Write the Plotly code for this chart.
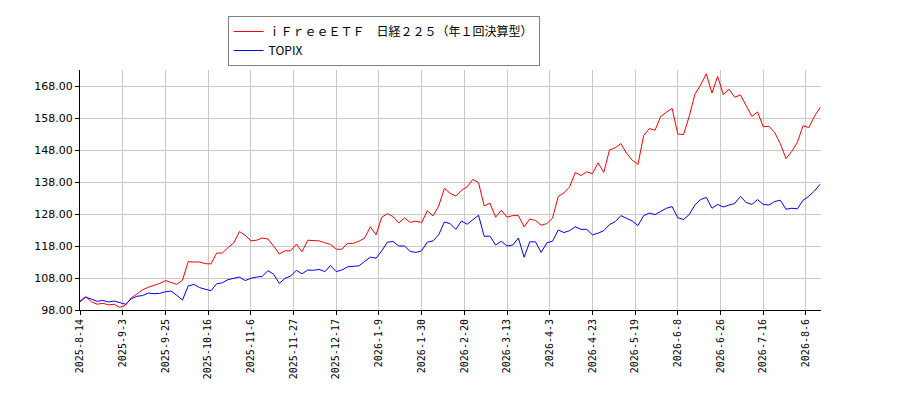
import plotly.graph_objects as go

# x tick labels, one every 15 trading days
TICK_LABELS = [
    "2025-8-14", "2025-9-3", "2025-9-25", "2025-10-16", "2025-11-6",
    "2025-11-27", "2025-12-17", "2026-1-9", "2026-1-30", "2026-2-20",
    "2026-3-13", "2026-4-3", "2026-4-23", "2026-5-19", "2026-6-8",
    "2026-6-26", "2026-7-16", "2026-8-6",
]
TICK_STEP = 15
SAMPLE_STEP = 2  # values read every 2 trading days

IFREE = [
    100.8, 102.2, 100.6, 99.8, 100.1, 99.6, 99.8, 98.8, 99.5, 101.8,
    103.0, 104.3, 105.1, 105.7, 106.3, 107.2, 106.5, 106.0, 107.3, 113.1,
    113.0, 113.0, 112.5, 112.4, 115.8, 115.8, 117.5, 119.0, 122.5, 121.4,
    119.6, 119.8, 120.5, 120.2, 118.0, 115.5, 116.5, 116.5, 118.6, 116.2,
    119.8, 119.6, 119.6, 119.0, 118.5, 117.0, 117.0, 118.8, 118.8, 119.5,
    120.5, 124.0, 121.5, 127.0, 128.1, 127.2, 125.2, 126.8, 125.4, 125.8,
    125.3, 129.0, 127.4, 130.5, 136.0, 134.5, 133.6, 135.4, 136.5, 138.8,
    137.8, 130.5, 131.4, 127.0, 129.2, 127.0, 127.5, 127.5, 124.0, 126.4,
    126.0, 124.5, 125.0, 126.7, 133.5, 134.6, 136.5, 141.0, 140.0, 141.2,
    140.6, 144.0, 141.0, 148.0, 148.7, 150.0, 147.0, 144.8, 143.5, 152.5,
    154.7, 154.2, 158.5, 159.8, 161.0, 153.0, 152.8, 158.5, 165.4, 168.3,
    171.8, 165.8, 171.0, 165.3, 167.0, 164.5, 165.2, 161.9, 158.5, 159.9,
    155.3, 155.4, 153.5, 150.0, 145.3, 147.5, 150.4, 155.6, 155.0, 158.5,
    161.3,
]

TOPIX = [
    100.6, 102.0, 101.4, 100.7, 101.0, 100.5, 100.8, 100.2, 99.8, 101.5,
    102.3, 102.5, 103.3, 103.1, 103.2, 103.7, 103.9, 102.6, 101.1, 105.5,
    106.0, 105.0, 104.5, 104.0, 106.2, 106.5, 107.5, 107.8, 108.3, 107.2,
    107.9, 108.3, 108.5, 110.3, 109.2, 106.3, 107.9, 108.6, 110.4, 109.3,
    110.5, 110.4, 110.7, 110.0, 111.9, 110.0, 110.5, 111.5, 111.7, 111.8,
    113.2, 114.5, 114.2, 116.5, 119.2, 119.4, 118.0, 118.0, 116.3, 116.0,
    116.5, 119.2, 119.6, 121.5, 125.5, 125.0, 123.2, 125.8, 124.8, 126.3,
    127.6, 121.0, 121.1, 118.3, 119.5, 118.0, 118.3, 120.5, 114.5, 119.3,
    119.3, 116.0, 119.0, 119.5, 123.0, 122.2, 122.8, 124.0, 123.2, 123.2,
    121.5, 122.0, 122.8, 124.7, 125.6, 127.5, 126.6, 125.8, 124.4, 127.5,
    128.3, 127.8, 128.8, 129.8, 130.3, 126.8, 126.3, 127.8, 130.8, 132.5,
    133.2, 129.8, 131.0, 130.2, 130.8, 131.3, 133.5, 131.6, 131.0, 132.5,
    131.0, 130.8, 131.9, 132.3, 129.5, 129.8, 129.6, 132.3, 133.5, 135.2,
    137.3,
]

SERIES_NAMES = ["ｉＦｒｅｅＥＴＦ　日経２２５（年１回決算型）", "TOPIX"]

x_idx = [i * SAMPLE_STEP for i in range(len(IFREE))]
tick_vals = [i * TICK_STEP for i in range(len(TICK_LABELS))]

fig = go.Figure()
fig.add_trace(go.Scatter(x=x_idx, y=IFREE, mode="lines", name=SERIES_NAMES[0],
                         line=dict(color="#ff0000", width=1)))
fig.add_trace(go.Scatter(x=x_idx, y=TOPIX, mode="lines", name=SERIES_NAMES[1],
                         line=dict(color="#0000ff", width=1)))

axis_font = dict(family="DejaVu Sans", size=11, color="#000000")
fig.update_xaxes(
    range=[0, x_idx[-1] + 0.3], tickvals=tick_vals, ticktext=TICK_LABELS,
    tickangle=-90, tickfont=dict(family="DejaVu Sans Mono", size=10, color="#000000"),
    showgrid=True, gridcolor="#c8c8c8", gridwidth=1,
    showline=True, linecolor="#000000", linewidth=1,
    ticks="outside", ticklen=4, tickcolor="#000000", zeroline=False,
    automargin=False,
)
fig.update_yaxes(
    range=[98, 173], tickvals=[98 + 10 * k for k in range(8)], tickformat=".2f",
    tickfont=axis_font,
    showgrid=True, gridcolor="#c8c8c8", gridwidth=1,
    showline=True, linecolor="#000000", linewidth=1,
    ticks="outside", ticklen=4, tickcolor="#000000", zeroline=False,
    automargin=False,
)

# page body adds an 8px offset, so margins are shifted to compensate
fig.update_layout(
    width=900, height=400,
    margin=dict(l=72, r=87, t=62, b=98, autoexpand=False),
    plot_bgcolor="#ffffff", paper_bgcolor="#ffffff",
    showlegend=True,
    legend=dict(
        xref="container", yref="container", x=0.244, y=0.98,
        xanchor="left", yanchor="top",
        bordercolor="#808080", borderwidth=1, bgcolor="#ffffff",
        font=dict(family="Noto Sans CJK JP", size=12, color="#000000"),
        tracegroupgap=0, itemwidth=30,
    ),
)

fig.write_html("out.html")
